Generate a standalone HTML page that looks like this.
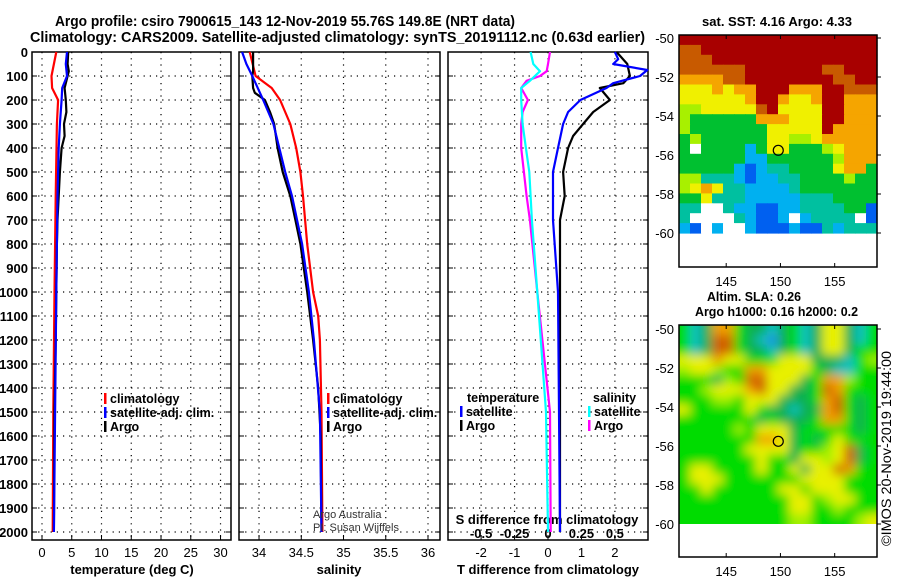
<!DOCTYPE html>
<html><head><meta charset="utf-8"><style>
html,body{margin:0;padding:0;background:#fff;}
svg{display:block;font-family:"Liberation Sans",sans-serif;font-weight:bold;}
</style></head><body>
<svg id="fig" width="900" height="580" viewBox="0 0 900 580">
<defs>
<filter id="blur" x="-5%" y="-5%" width="110%" height="110%"><feGaussianBlur stdDeviation="5"/></filter>
<clipPath id="slaclip"><rect x="679" y="325" width="198" height="199"/></clipPath>
</defs>
<text x="55" y="26" font-size="14.5" textLength="460" lengthAdjust="spacingAndGlyphs">Argo profile: csiro 7900615_143 12-Nov-2019 55.76S 149.8E (NRT data)</text>
<text x="30" y="42" font-size="14.5" textLength="615" lengthAdjust="spacingAndGlyphs">Climatology: CARS2009. Satellite-adjusted climatology: synTS_20191112.nc (0.63d earlier)</text>
<g id="g"></g>
</svg>
<script>
// ---- data ----
const depthTicks=[0,100,200,300,400,500,600,700,800,900,1000,1100,1200,1300,1400,1500,1600,1700,1800,1900,2000];
const tTicks=[0,5,10,15,20,25,30];
const sTicks=[34,34.5,35,35.5,36];
const sTickLabels=["34","34.5","35","35.5","36"];
const dTTicks=[-2,-1,0,1,2];
const dSTicks=[-0.5,-0.25,0,0.25,0.5];
const dSTickLabels=["-0.5","-0.25","0","0.25","0.5"];
// temperature
const tClimDepth=[0,50,100,150,200,300,600,1000,1500,2000];
const tClimVal=[2.4,2.0,1.6,1.7,2.7,2.5,2.3,2.1,1.9,1.8];
const tSatDepth=[0,50,100,150,200,300,400,600,1000,1500,2000];
const tSatVal=[4.2,4.0,4.2,3.4,3.3,3.0,2.8,2.6,2.4,2.2,2.0];
const tArgoDepth=[0,50,80,100,150,200,250,300,350,400,500,600,700,800,1000,1200,1500,2000];
const tArgoVal=[4.4,4.3,4.5,4.3,3.8,4.0,4.1,3.7,3.8,3.3,3.0,2.8,2.6,2.5,2.4,2.3,2.1,2.0];
// salinity
const sClimDepth=[0,100,150,200,250,300,400,500,600,800,1000,1100,1200,1500,2000];
const sClimVal=[33.89,33.96,34.15,34.25,34.31,34.37,34.44,34.49,34.52,34.57,34.64,34.70,34.72,34.74,34.75];
const sSatDepth=[0,50,100,200,300,400,500,600,800,1000,1200,1500,2000];
const sSatVal=[33.8,33.85,33.92,34.05,34.17,34.24,34.31,34.39,34.51,34.59,34.65,34.72,34.74];
const sArgoDepth=[0,80,100,150,170,200,250,300,400,500,600,700,800,1000,1200,1400,1600,2000];
const sArgoVal=[33.93,33.93,33.92,33.93,33.95,34.07,34.13,34.18,34.22,34.28,34.37,34.43,34.49,34.57,34.64,34.70,34.73,34.74];
// differences
const dTSatDepth=[0,30,50,75,100,130,150,200,250,300,400,500,700,1000,2000];
const dTSatVal=[2.0,2.1,1.95,2.97,2.75,1.95,1.75,0.97,0.6,0.45,0.3,0.15,0.15,0.3,0.36];
const dTArgoDepth=[0,50,100,130,150,200,250,300,350,400,500,600,700,1000,2000];
const dTArgoVal=[2.05,2.37,2.45,2.25,1.55,1.85,1.35,1.05,0.75,0.6,0.45,0.5,0.36,0.36,0.36];
const dSSatDepth=[0,50,80,120,150,200,300,400,500,700,1000,1500,2000];
const dSSatVal=[-0.13,-0.11,-0.06,-0.135,-0.2,-0.2,-0.19,-0.165,-0.14,-0.12,-0.08,-0.015,0.0];
const dSArgoDepth=[0,50,80,100,120,150,200,250,300,400,500,600,700,1000,1500,2000];
const dSArgoVal=[0.015,0.0,-0.01,-0.06,-0.16,-0.2,-0.15,-0.19,-0.2,-0.2,-0.18,-0.16,-0.135,-0.08,0.015,0.02];
// maps
const lonTicks=[145,150,155];
const latTicks=[-50,-52,-54,-56,-58,-60];
const argoLon=149.8, argoLat=-55.76;
const sstRows=[
"RRRRRRRRRRRRRRRRRR","rrRRRRRRRRRRRRRRRR","rrrRRRRRRRRRRRRRRR","rrrrrrRRRRRRRrrRRR",
"oooorrRRRRRRRRrrRR","yyyoyooRRRoooRRrrr","yyyyyyoRRoyyoRRooo","llyyyyyrRyyyyRRooo",
"lggggggoooyyyRRooo","lgggggggyyyyyRoooo","glggggggyyllyooooo","gwggggcgyyggglyooo",
"ggggggccgggggglooo","gggggcbcttggggyoog","lltttcbccttgggglgg","lyoyttcccctggggggg",
"ggytttccccctttgggg","ttwwtccbbccttttggb","twwwwtcbbcwcttttwb","cbwcwwcbbbcbbtcttt"];
const slaRows=[
"gctoogttctgctyytcg","gctOOgtcCtgctyytcg","gctOOgttctgctyytgg","yyyoyygggyyytttcgl",
"lyylggooyyyygtccgg","gggtlgOOyyytgoolgg","gglyyyoOyyttgOoggg","gggllgyyytttgoOgtg",
"ygggggygttcttoOgtg","gggggggtgtttgoogtg","ggggglgyyytgggggtg","gggggggooytgtgyggg",
"ggggggyyyytgglyOtg","gggggggyggtyylyOtg","gyyggggyggytyyOogg","gyyygggggggyyyyggg",
"ggyggggggyygyyyggg","ggggggggggyyglyygg","ggggggggggyygglggg","ggggggggggllggggly"];
</script>
<script>
const NS="http://www.w3.org/2000/svg";
const G=document.getElementById('g');
function mk(tag,attrs,parent,text){const e=document.createElementNS(NS,tag);for(const k in attrs)e.setAttribute(k,attrs[k]);if(text!==undefined)e.textContent=text;(parent||G).appendChild(e);return e;}
const yTop=52, pxPerM=0.24, pBottom=540;
const yD=d=>yTop+d*pxPerM;
const panels=[
 {name:'temperature-panel',x0:32,x1:231},
 {name:'salinity-panel',x0:239,x1:440},
 {name:'difference-panel',x0:448,x1:648}
];
const xT=v=>32+(v+1.68)/(33.44)*199;
const xS=v=>239+(v-33.763)/(2.379)*201;
const xDT=v=>448+(v+2.99)/5.98*200;
const xDS=v=>xDT(v*4);
function dotted(x1,y1,x2,y2){const l=mk('line',{x1,y1,x2,y2,stroke:'#000','stroke-width':1.2,'stroke-dasharray':'1.2,5'});}
panels.forEach((p,i)=>{
  const fr=mk('rect',{x:p.x0,y:yTop,width:p.x1-p.x0,height:pBottom-yTop,fill:'#fff',stroke:'#000','stroke-width':1.5});
  
  depthTicks.forEach(d=>{ if(d>0) dotted(p.x0,yD(d),p.x1,yD(d));
    mk('line',{x1:p.x1-5,y1:yD(d),x2:p.x1,y2:yD(d),stroke:'#000'});
    mk('line',{x1:p.x0,y1:yD(d),x2:p.x0+5,y2:yD(d),stroke:'#000'});
    if(i===0){const t=mk('text',{x:28,y:yD(d)+5,'font-size':13,'text-anchor':'end'},G,String(d));}
  });
});
tTicks.forEach(v=>{const x=xT(v);dotted(x,yTop,x,pBottom);mk('line',{x1:x,y1:pBottom-5,x2:x,y2:pBottom,stroke:'#000'});
 const t=mk('text',{x,y:557,'font-size':13,'text-anchor':'middle','font-weight':'normal'},G,String(v));});
sTicks.forEach((v,i)=>{const x=xS(v);dotted(x,yTop,x,pBottom);mk('line',{x1:x,y1:pBottom-5,x2:x,y2:pBottom,stroke:'#000'});
 const t=mk('text',{x,y:557,'font-size':13,'text-anchor':'middle','font-weight':'normal'},G,sTickLabels[i]);});
dTTicks.forEach(v=>{const x=xDT(v);dotted(x,yTop,x,pBottom);mk('line',{x1:x,y1:pBottom-5,x2:x,y2:pBottom,stroke:'#000'});
 const t=mk('text',{x,y:557,'font-size':13,'text-anchor':'middle','font-weight':'normal'},G,String(v));});
dSTicks.forEach((v,i)=>{const x=xDS(v);
 const t=mk('text',{x,y:538,'font-size':13,'text-anchor':'middle'},G,dSTickLabels[i]);});
[['temperature (deg C)',132,'temperature-axis-title'],['salinity',339,'salinity-axis-title'],['T difference from climatology',548,'t-diff-axis-title']].forEach(a=>{
 const t=mk('text',{x:a[1],y:574,'font-size':13,'text-anchor':'middle'},G,a[0]);});
{const t=mk('text',{x:547,y:524,'font-size':13,'text-anchor':'middle'},G,'S difference from climatology');}
function line(ds,vs,xf,color,name){const pts=ds.map((d,i)=>xf(vs[i]).toFixed(1)+','+yD(d).toFixed(1)).join(' ');
 const l=mk('polyline',{points:pts,fill:'none',stroke:color,'stroke-width':2.2,'stroke-linejoin':'round'});
 }
line(tClimDepth,tClimVal,xT,'#f00','temperature-climatology-line');
line(tArgoDepth,tArgoVal,xT,'#000','temperature-argo-line');
line(tSatDepth,tSatVal,xT,'#00f','temperature-satellite-line');
line(sClimDepth,sClimVal,xS,'#f00','salinity-climatology-line');
line(sArgoDepth,sArgoVal,xS,'#000','salinity-argo-line');
line(sSatDepth,sSatVal,xS,'#00f','salinity-satellite-line');
line(dSArgoDepth,dSArgoVal,xDS,'#f0f','s-diff-argo-line');
line(dSSatDepth,dSSatVal,xDS,'#0ff','s-diff-satellite-line');
line(dTArgoDepth,dTArgoVal,xDT,'#000','t-diff-argo-line');
line(dTSatDepth,dTSatVal,xDT,'#00f','t-diff-satellite-line');
function leg(x,y,color,label,name){mk('rect',{x:x,y:y-10,width:2.5,height:11,fill:color});
 const t=mk('text',{x:x+6,y:y,'font-size':12.5},G,label);}
leg(104,403,'#f00','climatology','legend-climatology');leg(104,417,'#00f','satellite-adj. clim.','legend-satellite');leg(104,431,'#000','Argo','legend-argo');
leg(327,403,'#f00','climatology','legend-climatology-2');leg(327,417,'#00f','satellite-adj. clim.','legend-satellite-2');leg(327,431,'#000','Argo','legend-argo-2');
{const t=mk('text',{x:467,y:402,'font-size':12.5},G,'temperature');}
leg(460,416,'#00f','satellite','legend-t-satellite');leg(460,430,'#000','Argo','legend-t-argo');
{const t=mk('text',{x:593,y:402,'font-size':12.5},G,'salinity');}
leg(588,416,'#0ff','satellite','legend-s-satellite');leg(588,430,'#f0f','Argo','legend-s-argo');
{const t=mk('text',{x:313,y:518,'font-size':11,'font-weight':'normal',fill:'#333'},G,'Argo Australia');}
{const t=mk('text',{x:313,y:531,'font-size':11,'font-weight':'normal',fill:'#333'},G,'PI: Susan Wijffels');}
const cmap={R:'#a80000',r:'#c85a00',o:'#f5a500',O:'#d27000',y:'#f0f000',l:'#a8f000',g:'#00c030',t:'#00c0a0',c:'#00b0f0',C:'#20a8e0',b:'#0060f0',w:'#ffffff'};
const slamap={O:'#d06000',o:'#f0a000',y:'#e8f000',l:'#a0f000',g:'#00dc00',t:'#10b050',c:'#10c0c0',C:'#2090e8'};
function drawMap(rows,cm,top,latTop,bottom,name,title,blur){
  const mx0=679,mx1=877,lon0=140.65,lon1=158.9;
  const xL=l=>mx0+(l-lon0)/(lon1-lon0)*(mx1-mx0);
  const yLat=l=>latTop+(-50-l)*19.5;
  const gridBottom=yLat(-60);
  const grp=mk('g',{});
  mk('rect',{x:mx0,y:top,width:mx1-mx0,height:bottom-top,fill:'#fff'},grp);
  let cg=grp;
  if(blur){const clip=mk('g',{'clip-path':'url(#slaclip)'},grp);cg=mk('g',{filter:'url(#blur)'},clip);}
  const nr=rows.length, rh=(gridBottom-top)/nr;
  rows.forEach((r,ri)=>{const nc=r.length;const cw=(mx1-mx0)/nc;
    for(let ci=0;ci<nc;ci++){
      let y0=top+ri*rh,h=rh+0.6;
      let x0=mx0+ci*cw,w=cw+0.6;
      if(blur){ if(ri===0){y0-=10;h+=10;} if(ri===nr-1) h+=10; if(ci===0){x0-=10;w+=10;} if(ci===nc-1) w+=10; }
      const c=mk('rect',{x:x0.toFixed(1),y:y0.toFixed(1),width:w.toFixed(1),height:h.toFixed(1),fill:cm[r[ci]]||'#fff'},cg);
      }});
  mk('rect',{x:mx0,y:top,width:mx1-mx0,height:bottom-top,fill:'none',stroke:'#000','stroke-width':1.5},grp);
  lonTicks.forEach(l=>{const x=xL(l);mk('line',{x1:x,y1:top,x2:x,y2:top+4,stroke:'#000'},grp);mk('line',{x1:x,y1:bottom-4,x2:x,y2:bottom,stroke:'#000'},grp);
    const t=mk('text',{x,y:bottom+19,'font-size':13,'text-anchor':'middle','font-weight':'normal'},grp,String(l));});
  latTicks.forEach(l=>{const y=yLat(l);mk('line',{x1:mx1,y1:y,x2:mx1+4,y2:y,stroke:'#000'},grp);
    const t=mk('text',{x:674,y:y+5,'font-size':13,'text-anchor':'end','font-weight':'normal'},grp,String(l));});
  const m=mk('circle',{cx:xL(argoLon),cy:yLat(argoLat),r:5,fill:'none',stroke:'#000','stroke-width':1.2},grp);
  
  title.forEach(tt=>{const t=mk('text',{x:tt[1],y:tt[2],'font-size':12.5,textLength:tt[3],lengthAdjust:'spacingAndGlyphs'},grp,tt[0]);});
}
drawMap(sstRows,cmap,35,38,267,'sst-map',[['sat. SST: 4.16 Argo: 4.33',702,26,150]],false);
drawMap(slaRows,slamap,325,329,557,'sla-map',[['Altim. SLA: 0.26',707,301,94],['Argo h1000: 0.16 h2000: 0.2',695,316,163]],true);
{const t=mk('text',{x:0,y:0,'font-size':14,'font-weight':'normal',textLength:195,lengthAdjust:'spacingAndGlyphs',transform:'translate(891,546) rotate(-90)'},G,'©IMOS 20-Nov-2019 19:44:00');}
</script>
</body></html>
